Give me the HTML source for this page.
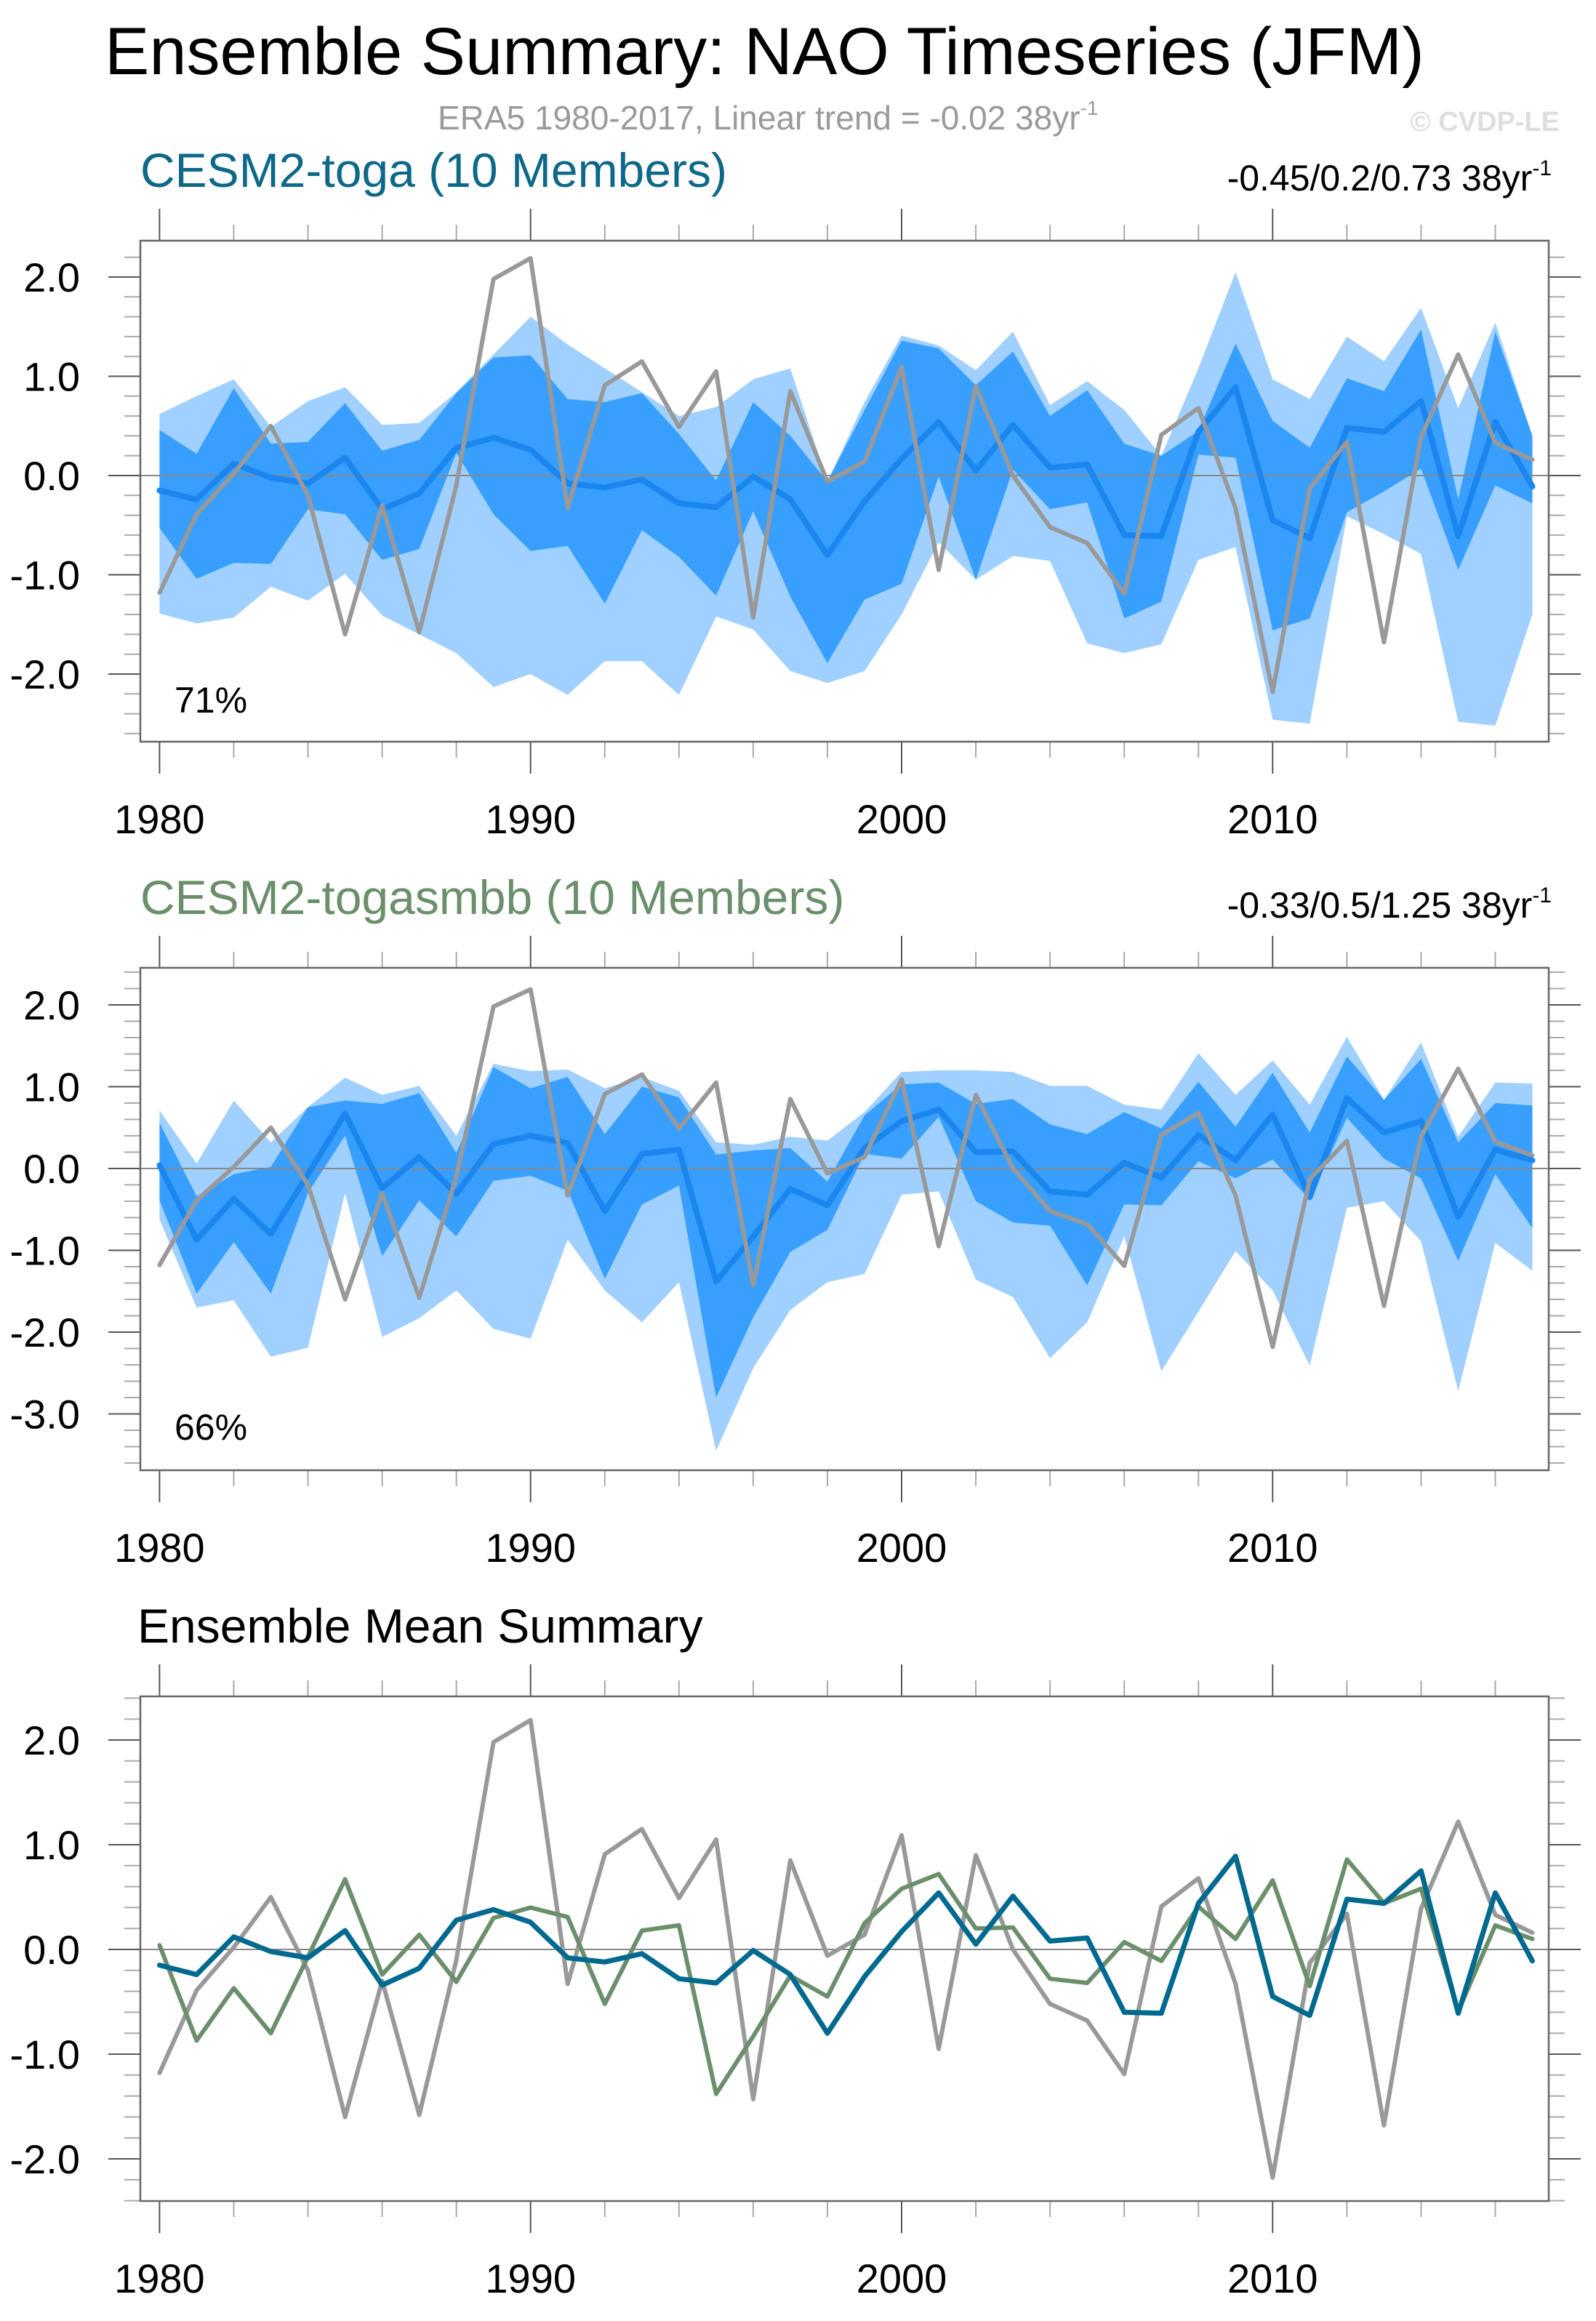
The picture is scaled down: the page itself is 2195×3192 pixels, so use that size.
<!DOCTYPE html>
<html><head><meta charset="utf-8"><style>
html,body{margin:0;padding:0;background:#fff}
svg text{font-family:"Liberation Sans",sans-serif}
</style></head><body>
<svg id="chart" xmlns="http://www.w3.org/2000/svg" width="2195" height="3187" viewBox="0 0 2195 3187">
<rect width="2195" height="3187" fill="#fff"/>
<text x="144" y="102" font-size="92" fill="#000">Ensemble Summary: NAO Timeseries (JFM)</text>
<text x="602" y="178" font-size="46" fill="#9a9a9a">ERA5 1980-2017, Linear trend = -0.02 38yr<tspan font-size="28" dy="-20">-1</tspan></text>
<text x="2145" y="180" font-size="38" font-weight="bold" fill="#dedede" text-anchor="end">© CVDP-LE</text>
<text x="193" y="257" font-size="66" fill="#0e6889">CESM2-toga (10 Members)</text>
<text x="2134" y="262" font-size="50" fill="#000" text-anchor="end">-0.45/0.2/0.73 38yr<tspan font-size="30" dy="-21">-1</tspan></text>
<text x="193" y="1257" font-size="66" fill="#6a8f6a">CESM2-togasmbb (10 Members)</text>
<text x="2134" y="1262" font-size="50" fill="#000" text-anchor="end">-0.33/0.5/1.25 38yr<tspan font-size="30" dy="-21">-1</tspan></text>
<text x="189" y="2259" font-size="66" fill="#000">Ensemble Mean Summary</text>
<g id="plots"></g>
</svg>
<script>
const years = [1980,1981,1982,1983,1984,1985,1986,1987,1988,1989,1990,1991,1992,1993,1994,1995,1996,1997,1998,1999,2000,2001,2002,2003,2004,2005,2006,2007,2008,2009,2010,2011,2012,2013,2014,2015,2016,2017];
const obs = [-1.18,-0.39,0.02,0.50,-0.20,-1.60,-0.30,-1.58,-0.10,1.98,2.19,-0.33,0.91,1.15,0.49,1.05,-1.43,0.85,-0.06,0.14,1.09,-0.95,0.90,0.0,-0.52,-0.68,-1.19,0.41,0.68,-0.33,-2.18,-0.13,0.34,-1.68,0.39,1.22,0.33,0.16];
const togaMean = [-0.15,-0.24,0.12,-0.02,-0.08,0.18,-0.34,-0.18,0.28,0.38,0.26,-0.08,-0.12,-0.04,-0.28,-0.32,-0.01,-0.24,-0.80,-0.26,0.17,0.54,0.05,0.51,0.08,0.11,-0.60,-0.61,0.44,0.89,-0.45,-0.63,0.48,0.44,0.75,-0.61,0.54,-0.11];
const togaLU = [0.62,0.80,0.97,0.49,0.75,0.89,0.51,0.53,0.84,1.22,1.60,1.32,1.08,0.84,0.60,0.69,0.97,1.08,-0.06,0.74,1.41,1.31,1.06,1.45,0.71,0.95,0.66,0.20,1.08,2.05,0.97,0.77,1.40,1.15,1.69,0.68,1.54,0.40];
const togaDU = [0.46,0.22,0.88,0.32,0.34,0.73,0.25,0.36,0.83,1.19,1.21,0.77,0.74,0.83,0.42,-0.05,0.74,0.40,-0.06,0.66,1.36,1.28,0.91,1.25,0.60,0.86,0.32,0.20,0.45,1.33,0.55,0.28,0.98,0.85,1.47,-0.24,1.45,0.40];
const togaDL = [-0.53,-1.04,-0.88,-0.89,-0.34,-0.39,-0.85,-0.74,0.23,-0.39,-0.76,-0.71,-1.29,-0.55,-0.82,-1.21,-0.36,-1.22,-1.89,-1.25,-1.09,-0.01,-1.05,0.06,-0.34,-0.27,-1.44,-1.27,0.21,0.18,-1.56,-1.44,-0.37,-0.16,0.07,-0.95,-0.10,-0.28];
const togaLL = [-1.39,-1.49,-1.43,-1.12,-1.26,-0.99,-1.41,-1.60,-1.79,-2.13,-2.00,-2.21,-1.87,-1.87,-2.21,-1.42,-1.55,-1.97,-2.09,-1.97,-1.40,-0.67,-1.05,-0.81,-0.86,-1.69,-1.79,-1.70,-0.85,-0.72,-2.46,-2.50,-0.41,-0.59,-0.79,-2.48,-2.52,-1.40];
const smbbMean = [0.04,-0.87,-0.37,-0.80,-0.07,0.67,-0.24,0.14,-0.31,0.30,0.40,0.31,-0.52,0.18,0.23,-1.38,-0.83,-0.25,-0.45,0.25,0.58,0.72,0.20,0.21,-0.28,-0.32,0.07,-0.11,0.41,0.10,0.66,-0.35,0.86,0.44,0.58,-0.59,0.23,0.10];
const smbbLU = [0.71,0.06,0.83,0.32,0.75,1.11,0.90,1.01,0.40,1.28,1.19,1.21,0.98,1.12,0.95,0.32,0.29,0.39,0.34,0.69,1.18,1.20,1.20,1.18,1.01,1.01,0.78,0.72,1.41,0.90,1.32,0.78,1.61,0.84,1.54,0.39,1.05,1.04];
const smbbDU = [0.56,-0.34,-0.07,0.02,0.75,0.83,0.79,0.92,0.19,1.24,0.98,1.12,0.42,1.00,0.87,0.17,0.22,0.25,-0.16,0.65,1.03,1.05,0.79,0.85,0.54,0.42,0.69,0.49,1.06,0.51,1.17,0.44,1.37,0.84,1.34,0.32,0.80,0.77];
const smbbDL = [-0.39,-1.53,-0.90,-1.53,-0.30,0.40,-1.07,-0.39,-0.83,-0.15,-0.09,-0.27,-1.35,-0.44,-0.21,-2.80,-1.82,-1.02,-0.75,0.18,0.12,0.63,-0.40,-0.66,-0.70,-1.43,-0.44,-0.45,0.09,-0.12,0.11,-0.38,0.62,0.12,-0.12,-1.13,-0.07,-0.73];
const smbbLL = [-0.62,-1.70,-1.61,-2.30,-2.19,-0.30,-2.06,-1.83,-1.49,-1.96,-2.08,-0.87,-1.49,-1.88,-1.39,-3.45,-2.44,-1.73,-1.39,-1.29,-0.32,-0.28,-1.36,-1.57,-2.32,-1.88,-0.83,-2.48,-1.75,-1.01,-1.49,-2.41,-0.48,-0.40,-0.89,-2.72,-0.91,-1.25];
const yTickLabels1 = ["2.0","1.0","0.0","-1.0","-2.0"];
const yTickLabels2 = ["2.0","1.0","0.0","-1.0","-2.0","-3.0"];
const xTickLabels = ["1980","1990","2000","2010"];

const NS = "http://www.w3.org/2000/svg";
const root = document.getElementById('plots');
const L = 193, R = 2130;
const xS = yr => 219.4 + (yr - 1980) * 51.03;
function mk(tag, attrs, parent){const e=document.createElementNS(NS,tag);for(const k in attrs)e.setAttribute(k,attrs[k]);(parent||root).appendChild(e);return e;}
function pts(vals, yS){return vals.map((v,i)=>xS(years[i]).toFixed(1)+','+yS(v).toFixed(1));}

function panel(id, top, bottom, zero, unit, labels, pctText){
  const yS = v => zero - v * unit;
  const g = mk('g', {});
  
  
  const vmax = (zero - top) / unit, vmin = (zero - bottom) / unit;
  for (let k = Math.ceil(vmin*5 - 1e-6); k <= Math.floor(vmax*5 + 1e-6); k++) {
    const v = k / 5, y = yS(v), major = (k % 5 === 0);
    const t1 = mk('line', {x1: L - (major?44:22), x2: L, y1: y, y2: y, stroke: major?'#555':'#aaa', 'stroke-width': 2}, g);
    
    
    const t2 = mk('line', {x1: R, x2: R + (major?44:22), y1: y, y2: y, stroke: major?'#555':'#aaa', 'stroke-width': 2}, g);
    
    
  }
  labels.forEach(lb => {
    const v = parseFloat(lb);
    const t = mk('text', {x: 110, y: yS(v) + 20, 'font-size': 56, 'text-anchor': 'end', fill: '#000'}, g);
    t.textContent = lb;
    
    
  });
  for (let yr = 1980; yr <= 2016; yr += 2) {
    const x = xS(yr), major = (yr % 10 === 0);
    const b = mk('line', {x1: x, x2: x, y1: bottom, y2: bottom + (major?44:22), stroke: major?'#555':'#aaa', 'stroke-width': 2}, g);
    
    
    const tp = mk('line', {x1: x, x2: x, y1: top, y2: top - (major?44:22), stroke: major?'#555':'#aaa', 'stroke-width': 2}, g);
    
    
  }
  xTickLabels.forEach(lb => {
    const t = mk('text', {x: xS(+lb), y: bottom + 126, 'font-size': 56, 'text-anchor': 'middle', fill: '#000'}, g);
    t.textContent = lb;
    
    
  });
  if (pctText) {
    const t = mk('text', {x: 240, y: top + 649, 'font-size': 50, fill: '#000'}, g);
    t.textContent = pctText;
    
    
  }
  return {g, yS};
}
function band(g, up, lo, yS, color, name){
  const p = pts(up, yS).concat(pts(lo, yS).reverse());
  const e = mk('polygon', {points: p.join(' '), fill: color}, g);
  
  
}
function line(g, vals, yS, color, w, name){
  const e = mk('polyline', {points: pts(vals, yS).join(' '), fill: 'none', stroke: color, 'stroke-width': w, 'stroke-linejoin': 'round', 'stroke-linecap': 'round'}, g);
  
  
}
function zeroLine(g, yS, name){
  const e = mk('line', {x1: L, x2: R, y1: yS(0), y2: yS(0), stroke: '#888', 'stroke-width': 2}, g);
  
  
}
function frame(g, top, bottom, name){
  const e = mk('rect', {x: L, y: top, width: R - L, height: bottom - top, fill: 'none', stroke: '#666', 'stroke-width': 2.5}, g);
  
  
}

let p = panel('panel1', 331, 1020, 654, 136.5, yTickLabels1, '71%');
band(p.g, togaLU, togaLL, p.yS, '#9fd0ff', 'toga-outer-band');
band(p.g, togaDU, togaDL, p.yS, '#389fff', 'toga-inner-band');
zeroLine(p.g, p.yS, 'panel1-zero-line');
line(p.g, togaMean, p.yS, '#1a86ee', 8, 'toga-ensemble-mean-line');
line(p.g, obs, p.yS, '#999999', 6, 'panel1-obs-line');
frame(p.g, 331, 1020, 'panel1-frame');

p = panel('panel2', 1331, 2022, 1607, 112.5, yTickLabels2, '66%');
band(p.g, smbbLU, smbbLL, p.yS, '#9fd0ff', 'togasmbb-outer-band');
band(p.g, smbbDU, smbbDL, p.yS, '#389fff', 'togasmbb-inner-band');
zeroLine(p.g, p.yS, 'panel2-zero-line');
line(p.g, smbbMean, p.yS, '#1a86ee', 8, 'togasmbb-ensemble-mean-line');
line(p.g, obs, p.yS, '#999999', 6, 'panel2-obs-line');
frame(p.g, 1331, 2022, 'panel2-frame');

p = panel('panel3', 2333, 3027, 2681, 144, yTickLabels1, null);
zeroLine(p.g, p.yS, 'panel3-zero-line');
line(p.g, obs, p.yS, '#999999', 6, 'panel3-obs-line');
line(p.g, smbbMean, p.yS, '#6a8f6a', 6, 'panel3-togasmbb-mean-line');
line(p.g, togaMean, p.yS, '#00698f', 7, 'panel3-toga-mean-line');
frame(p.g, 2333, 3027, 'panel3-frame');
</script>
</body></html>
